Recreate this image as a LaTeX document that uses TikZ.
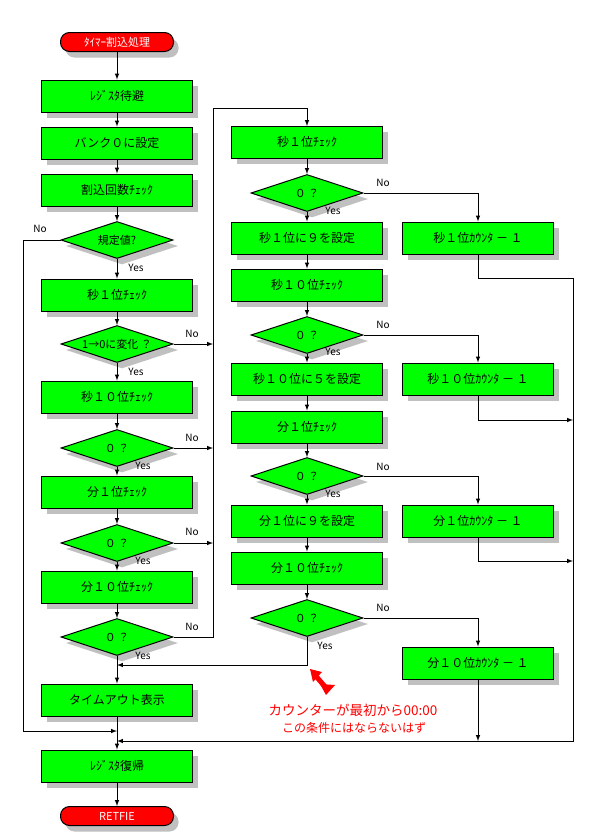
\documentclass[tikz,border=0pt]{standalone}
\usepackage{fontspec}
\setmainfont{Noto Sans CJK JP}
\usetikzlibrary{shapes.geometric, shadows}

\definecolor{boxgreen}{RGB}{0,255,0}
\definecolor{termred}{RGB}{255,0,0}
\definecolor{shadowgray}{RGB}{192,192,192}

\tikzset{
	shade5/.style = {drop shadow = {shadow xshift = 5pt, shadow yshift = -6pt, fill = shadowgray, opacity = 1}},
	procbox/.style = {draw, fill = boxgreen, shade5, minimum width = 151pt, minimum height = 32pt, inner sep = 0pt, font = \fontsize{12}{12}\selectfont},
	decision/.style = {diamond, aspect = 3, draw, fill = boxgreen, shade5, minimum width = 112pt, minimum height = 37pt, inner sep = 0pt, font = \fontsize{11}{11}\selectfont},
	terminal/.style = {draw, fill = termred, rounded corners = 9pt, shade5, minimum width = 113pt, minimum height = 19pt, inner sep = 0pt, text = white, font = \fontsize{11}{11}\selectfont},
	yesno/.style = {inner sep = 0pt, font = \fontsize{10}{10}\selectfont},
}

\begin{document}
\begin{tikzpicture}[> = latex, x = 1pt, y = -1pt, line width = 1pt]

	\fill [white] (0, 0) rectangle (594, 839);
	\useasboundingbox (0, 0) rectangle (594, 839);

	% Main column
	
	\node [terminal] (start) at (117, 42) {ﾀｲﾏｰ割込処理};
	\node [procbox] (save) at (117, 96) {ﾚｼﾞｽﾀ待避};
	\node [procbox] (bank) at (117, 143) {バンク０に設定};
	\node [procbox] (cntchk) at (117, 190) {割込回数ﾁｪｯｸ};
	\node [decision] (dlimit) at (117, 240) {規定値?};
	\node [procbox] (s1chk) at (117, 295) {秒１位ﾁｪｯｸ};
	\node [decision] (dchg) at (117, 344) {1→0に変化 ？};
	\node [procbox] (s10chk) at (117, 397) {秒１０位ﾁｪｯｸ};
	\node [decision] (ds10) at (117, 448) {０ ？};
	\node [procbox] (m1chk) at (117, 492) {分１位ﾁｪｯｸ};
	\node [decision] (dm1) at (117, 543) {０ ？};
	\node [procbox] (m10chk) at (117, 587) {分１０位ﾁｪｯｸ};
	\node [decision] (dm10) at (117, 637) {０ ？};
	\node [procbox] (tout) at (117, 700) {タイムアウト表示};
	\node [procbox] (restore) at (117, 766) {ﾚｼﾞｽﾀ復帰};
	\node [terminal] (retfie) at (117, 816) {RETFIE};

	\draw [->] (start) -- (save);
	\draw [->] (save) -- (bank);
	\draw [->] (bank) -- (cntchk);
	\draw [->] (cntchk) -- (dlimit);
	\draw [->] (dlimit) -- (s1chk);
	\draw [->] (s1chk) -- (dchg);
	\draw [->] (dchg) -- (s10chk);
	\draw [->] (s10chk) -- (ds10);
	\draw [->] (ds10) -- (m1chk);
	\draw [->] (m1chk) -- (dm1);
	\draw [->] (dm1) -- (m10chk);
	\draw [->] (m10chk) -- (dm10);
	\draw [->] (dm10) -- (tout);
	\draw [->] (tout) -- (restore);
	\draw [->] (restore) -- (retfie);

	% Join points on the main column
	
	\coordinate (jn1) at (117, 665);
	\coordinate (jn2) at (117, 731);
	\coordinate (jn3) at (117, 741);
	\coordinate (lbus) at (213, 108);
	\coordinate (rbus) at (573, 278);

	% No branches of the main column
	
	\draw [->] (dlimit.west) -| (23, 731) -- (jn2);
	\draw [->] (dchg.east) -- (dchg.east -| lbus);
	\draw [->] (ds10.east) -- (ds10.east -| lbus);
	\draw [->] (dm1.east) -- (dm1.east -| lbus);
	\draw [->] (dm10.east) -| (lbus) -| (307, 126);

	\node [yesno] (no1) at (40, 229) {No};
	\node [yesno] (no2) at (192, 334) {No};
	\node [yesno] (no3) at (192, 438) {No};
	\node [yesno] (no4) at (192, 532) {No};
	\node [yesno] (no5) at (192, 627) {No};
	\node [yesno] (yes1) at (136, 268) {Yes};
	\node [yesno] (yes2) at (136, 372) {Yes};
	\node [yesno] (yes3) at (143, 466) {Yes};
	\node [yesno] (yes4) at (143, 561) {Yes};
	\node [yesno] (yes5) at (143, 656) {Yes};

	% Right column
	
	\node [procbox] (rs1chk) at (307, 142) {秒１位ﾁｪｯｸ};
	\node [decision] (rds1) at (307, 193) {０ ？};
	\node [procbox] (rs1set) at (307, 238) {秒１位に９を設定};
	\node [procbox] (rs10chk) at (307, 285) {秒１０位ﾁｪｯｸ};
	\node [decision] (rds10) at (307, 335) {０ ？};
	\node [procbox] (rs10set) at (307, 379) {秒１０位に５を設定};
	\node [procbox] (rm1chk) at (307, 427) {分１位ﾁｪｯｸ};
	\node [decision] (rdm1) at (307, 476) {０ ？};
	\node [procbox] (rm1set) at (307, 521) {分１位に９を設定};
	\node [procbox] (rm10chk) at (307, 568) {分１０位ﾁｪｯｸ};
	\node [decision] (rdm10) at (307, 618) {０ ？};

	\draw [->] (rs1chk) -- (rds1);
	\draw [->] (rds1) -- (rs1set);
	\draw [->] (rs1set) -- (rs10chk);
	\draw [->] (rs10chk) -- (rds10);
	\draw [->] (rds10) -- (rs10set);
	\draw [->] (rs10set) -- (rm1chk);
	\draw [->] (rm1chk) -- (rdm1);
	\draw [->] (rdm1) -- (rm1set);
	\draw [->] (rm1set) -- (rm10chk);
	\draw [->] (rm10chk) -- (rdm10);
	\draw [->] (rdm10.south) |- (jn1);

	\node [yesno] (no6) at (383, 183) {No};
	\node [yesno] (no7) at (383, 325) {No};
	\node [yesno] (no8) at (383, 467) {No};
	\node [yesno] (no9) at (383, 608) {No};
	\node [yesno] (yes6) at (333, 211) {Yes};
	\node [yesno] (yes7) at (333, 352) {Yes};
	\node [yesno] (yes8) at (333, 494) {Yes};
	\node [yesno] (yes9) at (325, 646) {Yes};

	% Counter column
	
	\node [procbox] (cs1) at (478, 238) {秒１位ｶｳﾝﾀ － １};
	\node [procbox] (cs10) at (478, 379) {秒１０位ｶｳﾝﾀ － １};
	\node [procbox] (cm1) at (478, 521) {分１位ｶｳﾝﾀ － １};
	\node [procbox] (cm10) at (478, 663) {分１０位ｶｳﾝﾀ － １};

	\draw [->] (rds1.east) -| (cs1.north);
	\draw [->] (rds10.east) -| (cs10.north);
	\draw [->] (rdm1.east) -| (cm1.north);
	\draw [->] (rdm10.east) -| (cm10.north);

	\draw [->] (cs1.south) |- (rbus) -- (rbus |- jn3) -- (jn3);
	\draw [->] (cs10.south) |- (573, 420);
	\draw [->] (cm1.south) |- (573, 561);
	\draw [->] (cm10.south) -- (cm10.south |- jn3);

	% Note and its red arrow
	
	\draw [red, line width = 5pt] (315, 675) -- (327, 689);
	\fill [red] (310, 669) -- (322, 672) -- (313, 682) -- cycle;
	\fill [red] (320, 684) -- (335, 685) -- (326, 695) -- cycle;
	\node [red, inner sep = 0pt, font = \fontsize{13.5}{13.5}\selectfont] (note1) at (353, 710) {カウンターが最初から00:00};
	\node [red, inner sep = 0pt, font = \fontsize{12}{12}\selectfont] (note2) at (354, 728) {この条件にはならないはず};

\end{tikzpicture}
\end{document}
